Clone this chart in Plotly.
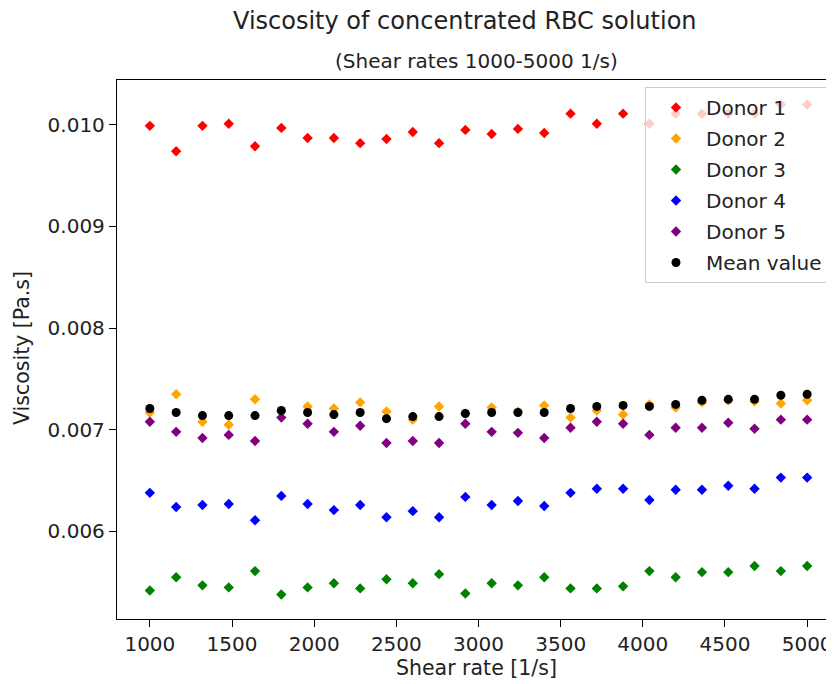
import plotly.graph_objects as go

shear_rate = [1000, 1160, 1320, 1480, 1640, 1800, 1960, 2120, 2280, 2440, 2600, 2760, 2920,
              3080, 3240, 3400, 3560, 3720, 3880, 4040, 4200, 4360, 4520, 4680, 4840, 5000]

donor1 = [0.00999, 0.00974, 0.00999, 0.01001, 0.00979, 0.00997, 0.00987, 0.00987, 0.00982,
          0.00986, 0.00993, 0.00982, 0.00995, 0.00991, 0.00996, 0.00992, 0.01011, 0.01001,
          0.01011, 0.01001, 0.01011, 0.01011, 0.01011, 0.01011, 0.01020, 0.01020]
donor2 = [0.00717, 0.00735, 0.00708, 0.00705, 0.00730, 0.00718, 0.00723, 0.00721, 0.00727,
          0.00718, 0.00710, 0.00723, 0.00716, 0.00722, 0.00718, 0.00724, 0.00712, 0.00719,
          0.00715, 0.00725, 0.00722, 0.00727, 0.00729, 0.00728, 0.00726, 0.00729]
donor3 = [0.00542, 0.00555, 0.00547, 0.00545, 0.00561, 0.00538, 0.00545, 0.00549, 0.00544,
          0.00553, 0.00549, 0.00558, 0.00539, 0.00549, 0.00547, 0.00555, 0.00544, 0.00544,
          0.00546, 0.00561, 0.00555, 0.00560, 0.00560, 0.00566, 0.00561, 0.00566]
donor4 = [0.00638, 0.00624, 0.00626, 0.00627, 0.00611, 0.00635, 0.00627, 0.00621, 0.00626,
          0.00614, 0.00620, 0.00614, 0.00634, 0.00626, 0.00630, 0.00625, 0.00638, 0.00642,
          0.00642, 0.00631, 0.00641, 0.00641, 0.00645, 0.00642, 0.00653, 0.00653]
donor5 = [0.00708, 0.00698, 0.00692, 0.00695, 0.00689, 0.00712, 0.00706, 0.00698, 0.00704,
          0.00687, 0.00689, 0.00687, 0.00706, 0.00698, 0.00697, 0.00692, 0.00702, 0.00708,
          0.00706, 0.00695, 0.00702, 0.00702, 0.00707, 0.00701, 0.00710, 0.00710]
mean_value = [0.00721, 0.00717, 0.00714, 0.00714, 0.00714, 0.00719, 0.00717, 0.00715, 0.00717,
              0.00711, 0.00713, 0.00713, 0.00716, 0.00717, 0.00717, 0.00717, 0.00721, 0.00723,
              0.00724, 0.00723, 0.00725, 0.00729, 0.00730, 0.00730, 0.00734, 0.00735]

series_names = ["Donor 1", "Donor 2", "Donor 3", "Donor 4", "Donor 5", "Mean value"]
series_colors = ["#ff0000", "#ffa500", "#008000", "#0000ff", "#800080", "#000000"]
series_values = [donor1, donor2, donor3, donor4, donor5, mean_value]

x_ticks = [1000, 1500, 2000, 2500, 3000, 3500, 4000, 4500, 5000]
y_ticks = [0.006, 0.007, 0.008, 0.009, 0.010]
y_tick_labels = ["0.006", "0.007", "0.008", "0.009", "0.010"]

FONT = "DejaVu Sans"
TXT = "#222222"

# figure geometry (page body adds an 8px offset)
W, H = 834, 684
ML, MR, MT, MB = 109, 2, 72, 73
PW = W - ML - MR
PH = H - MT - MB


def px_x(fx):
    return (fx - ML) / PW


def px_y(fy):
    return (H - MB - fy) / PH


fig = go.Figure()
for i, (name, color, vals) in enumerate(zip(series_names, series_colors, series_values)):
    is_mean = name == "Mean value"
    fig.add_trace(go.Scatter(
        x=shear_rate, y=vals, mode="markers", name=name, legendgroup=f"g{i}",
        marker=dict(symbol="circle" if is_mean else "diamond",
                    size=9 if is_mean else 8, color=color,
                    line=dict(width=0)),
    ))

fig.update_layout(
    width=W, height=H,
    margin=dict(l=ML, r=MR, t=MT, b=MB),
    paper_bgcolor="white", plot_bgcolor="white",
    font=dict(family=FONT, size=20, color=TXT),
    showlegend=True,
    legend=dict(
        x=px_x(820), y=px_y(79), xanchor="right", yanchor="top",
        bgcolor="rgba(255,255,255,0.8)", bordercolor="#cccccc", borderwidth=1,
        font=dict(family=FONT, size=20, color=TXT),
        tracegroupgap=2, itemwidth=50,
    ),
    xaxis=dict(
        range=[800, 5200], tickvals=x_ticks, ticktext=[str(t) for t in x_ticks],
        showgrid=False, zeroline=False,
        showline=True, linecolor="black", linewidth=1.3, mirror=True,
        ticks="outside", ticklen=7, tickcolor="black", tickwidth=1.3,
        tickfont=dict(family=FONT, size=20, color=TXT),
    ),
    yaxis=dict(
        range=[0.005139, 0.010441], tickvals=y_ticks, ticktext=y_tick_labels,
        showgrid=False, zeroline=False,
        showline=True, linecolor="black", linewidth=1.3,
        ticks="outside", ticklen=7, tickcolor="black", tickwidth=1.3,
        tickfont=dict(family=FONT, size=20, color=TXT),
    ),
    annotations=[
        dict(text="Viscosity of concentrated RBC solution", x=px_x(457), y=px_y(13),
             xref="paper", yref="paper", xanchor="center", yanchor="middle", showarrow=False,
             font=dict(family=FONT, size=24, color=TXT)),
        dict(text="(Shear rates 1000-5000 1/s)", x=px_x(468), y=px_y(53),
             xref="paper", yref="paper", xanchor="center", yanchor="middle", showarrow=False,
             font=dict(family=FONT, size=20, color=TXT)),
        dict(text="Shear rate [1/s]", x=px_x(468), y=px_y(660),
             xref="paper", yref="paper", xanchor="center", yanchor="middle", showarrow=False,
             font=dict(family=FONT, size=20.5, color=TXT)),
        dict(text="Viscosity [Pa.s]", x=px_x(14), y=px_y(340), textangle=-90,
             xref="paper", yref="paper", xanchor="center", yanchor="middle", showarrow=False,
             font=dict(family=FONT, size=20.5, color=TXT)),
    ],
)

fig.write_html("out.html")
